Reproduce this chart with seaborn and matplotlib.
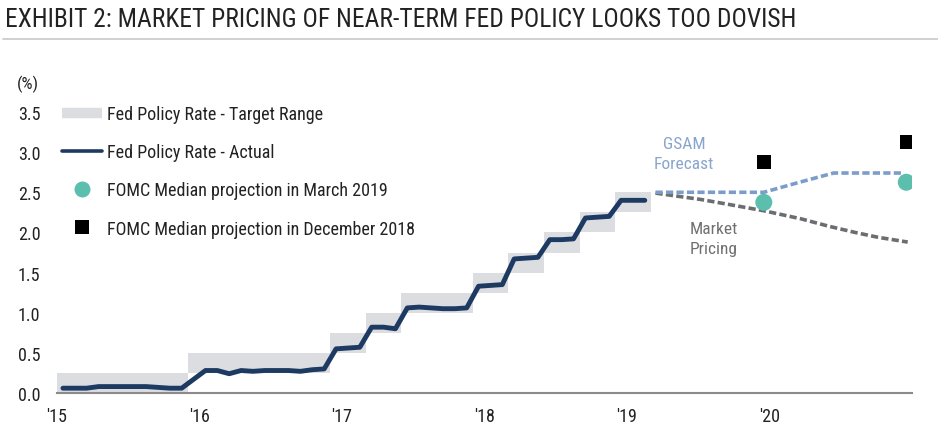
import numpy as np
import pandas as pd
import matplotlib
matplotlib.use('Agg')
import matplotlib.pyplot as plt
from matplotlib.lines import Line2D
import seaborn as sns

# ---- data ----
# monthly policy rate, Jan 2015 .. Feb 2019
actual_rate = [0.06, 0.06, 0.06, 0.08, 0.08, 0.08, 0.08, 0.08, 0.07, 0.06, 0.06, 0.17,
               0.28, 0.28, 0.24, 0.28, 0.27, 0.28, 0.28, 0.28, 0.27, 0.29, 0.30, 0.55,
               0.56, 0.57, 0.82, 0.82, 0.80, 1.06, 1.07, 1.06, 1.05, 1.05, 1.06, 1.33,
               1.34, 1.35, 1.67, 1.68, 1.69, 1.91, 1.91, 1.92, 2.18, 2.19, 2.20, 2.40,
               2.40, 2.40]
# target range: month (from Jan 2015) each range starts, and its lower bound
band_start_month = [0, 11, 23, 26, 29, 35, 38, 41, 44, 47]
band_lower = [0.00, 0.25, 0.50, 0.75, 1.00, 1.25, 1.50, 1.75, 2.00, 2.25]
band_end_month = 50

gsam_x = [2019.20, 2019.45, 2019.70, 2019.96, 2020.20, 2020.45, 2020.70, 2020.94]
gsam_y = [2.50, 2.50, 2.50, 2.50, 2.62, 2.74, 2.74, 2.74]
market_x = [2019.20, 2019.52, 2019.71, 2019.96, 2020.22, 2020.41, 2020.60, 2020.76, 2020.97]
market_y = [2.49, 2.41, 2.35, 2.27, 2.17, 2.08, 2.00, 1.94, 1.88]

fomc_x = [2019.96, 2020.96]
fomc_mar19 = [2.375, 2.625]
fomc_dec18 = [2.875, 3.125]

year_ticks = [2015, 2016, 2017, 2018, 2019, 2020]
year_labels = ["'15", "'16", "'17", "'18", "'19", "'20"]

# ---- styling ----
sns.set_theme(style='white')
plt.rcParams['font.family'] = ['Roboto Condensed', 'Liberation Sans Narrow', 'Roboto', 'DejaVu Sans']
plt.rcParams['font.stretch'] = 'condensed'

navy = '#1d3a62'
band_col = '#dcdde0'
teal = '#5cbfae'
gsam_col = '#7c9dcc'
market_col = '#6c6d70'
txt = '#222222'

fig = plt.figure(figsize=(9.38, 4.35), dpi=100)
ax = fig.add_axes([57 / 938, 1 - 394 / 435, 855 / 938, 281 / 435])

# target range bands
edges = band_start_month + [band_end_month]
for k, lo in enumerate(band_lower):
    x0 = 2015 + edges[k] / 12
    x1 = 2015 + edges[k + 1] / 12
    ax.fill_between([x0, x1], [lo, lo], [lo + 0.25, lo + 0.25], color=band_col, lw=0, zorder=1)

# actual rate, plotted mid-month
df = pd.DataFrame({'rate': actual_rate})
df['x'] = 2015 + (np.arange(len(df)) + 0.5) / 12
sns.lineplot(data=df, x='x', y='rate', ax=ax, color=navy, lw=3.5, sort=False,
             solid_capstyle='round', solid_joinstyle='round', zorder=3)

# forecasts
sns.lineplot(x=market_x, y=market_y, ax=ax, color=market_col, lw=2.6, sort=False,
             linestyle=(0, (2.0, 0.9)), zorder=3)
sns.lineplot(x=gsam_x, y=gsam_y, ax=ax, color=gsam_col, lw=2.6, sort=False,
             linestyle=(0, (2.0, 0.9)), zorder=4)

sns.scatterplot(x=fomc_x, y=fomc_mar19, ax=ax, color=teal, marker='o', s=150,
                edgecolor='none', zorder=5)
sns.scatterplot(x=fomc_x, y=fomc_dec18, ax=ax, color='black', marker='s', s=95,
                edgecolor='none', zorder=5)

ax.text(2019.40, 2.98, 'GSAM\nForecast', color='#88a5cd', fontsize=12.5,
        ha='center', va='center', linespacing=1.4)
ax.text(2019.61, 1.92, 'Market\nPricing', color='#707070', fontsize=12.5,
        ha='center', va='center', linespacing=1.4)

ax.set_xlim(2015, 2021)
ax.set_ylim(0, 3.5)
ax.set_xticks(year_ticks)
ax.set_xticklabels(year_labels)
ax.set_yticks(np.arange(0, 3.51, 0.5))
ax.set_yticklabels([f'{v:.1f}' for v in np.arange(0, 3.51, 0.5)])
ax.tick_params(axis='x', length=0, pad=10, labelsize=13, labelcolor=txt)
ax.tick_params(axis='y', length=0, pad=12, labelsize=13, labelcolor=txt)
ax.set_xlabel('')
ax.set_ylabel('')
for side in ['left', 'right', 'top']:
    ax.spines[side].set_visible(False)
ax.spines['bottom'].set_color('#8a8a8a')
ax.spines['bottom'].set_linewidth(1.5)
ax.patch.set_alpha(0)

handles = [
    Line2D([], [], color=band_col, lw=7.5, solid_capstyle='butt'),
    Line2D([], [], color=navy, lw=2.6),
    Line2D([], [], color=teal, marker='o', ls='', markersize=11.5, markeredgewidth=0),
    Line2D([], [], color='black', marker='s', ls='', markersize=9.4, markeredgewidth=0),
]
labels = ['Fed Policy Rate - Target Range', 'Fed Policy Rate - Actual',
          'FOMC Median projection in March 2019', 'FOMC Median projection in December 2018']
fig.legend(handles, labels, loc='upper left', bbox_to_anchor=(62 / 938, 1 - 106 / 435),
           frameon=False, fontsize=13, handlelength=2.2, handletextpad=0.3,
           labelspacing=1.12, borderpad=0, borderaxespad=0, labelcolor=txt)

fig.text(28 / 938, 1 - 84 / 435, '(%)', fontsize=12.5, ha='center', va='center', color=txt)
fig.text(5 / 938, 1 - 20 / 435, 'EXHIBIT 2: MARKET PRICING OF NEAR-TERM FED POLICY LOOKS TOO DOVISH',
         fontsize=18.4, ha='left', va='center', color=txt)
fig.add_artist(Line2D([3 / 938, 1], [1 - 40 / 435] * 2, color='#c8c8c8', lw=1.2))

fig.savefig('out.png', dpi=100)
